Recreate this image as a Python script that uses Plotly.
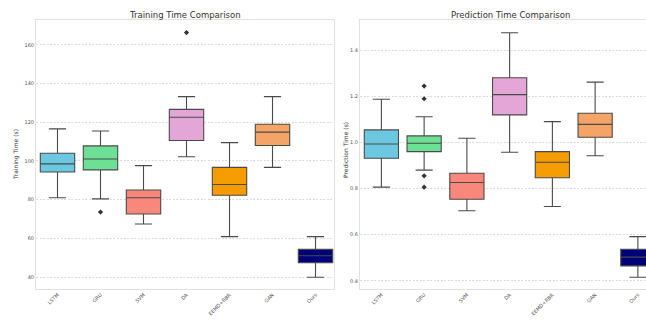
import plotly.graph_objects as go

models = ["LSTM", "GRU", "SVM", "DA", "EEMD+RBR", "GAN", "Ours"]
colors = ["#6CC7E0", "#6EE096", "#FA877B", "#E3A6D6", "#F59D00", "#F4A467", "#000078"]

# Training time (s) box statistics
train_low = [81.0, 80.4, 67.4, 102.2, 60.9, 96.7, 39.9]
train_q1 = [94.3, 95.4, 72.6, 110.6, 82.3, 108.0, 47.4]
train_med = [98.5, 101.0, 81.0, 122.6, 87.8, 114.9, 51.0]
train_q3 = [104.0, 107.8, 85.0, 126.7, 96.7, 119.0, 54.3]
train_high = [116.6, 115.5, 97.6, 133.3, 109.5, 133.3, 60.9]
train_out_x = ["GRU", "DA"]
train_out_y = [73.6, 166.4]

# Prediction time (s) box statistics
pred_low = [0.806, 0.880, 0.704, 0.957, 0.722, 0.942, 0.416]
pred_q1 = [0.931, 0.960, 0.754, 1.119, 0.847, 1.022, 0.465]
pred_med = [0.993, 0.996, 0.826, 1.207, 0.914, 1.078, 0.503]
pred_q3 = [1.054, 1.028, 0.866, 1.280, 0.960, 1.126, 0.537]
pred_high = [1.187, 1.111, 1.018, 1.475, 1.090, 1.261, 0.592]
pred_out_x = ["GRU", "GRU", "GRU", "GRU"]
pred_out_y = [1.244, 1.189, 0.855, 0.806]

train_ticks = [40, 60, 80, 100, 120, 140, 160]
pred_ticks = [0.4, 0.6, 0.8, 1.0, 1.2, 1.4]

W, H = 646, 321
L, R, T, B = 36, 0, 20, 32
PW = W - L - R
PH = H - T - B


def px(x):
    return (x - L) / PW


def py(y):
    return (H - B - y) / PH


fig = go.Figure()
edge = "#4a4a4a"
for i, m in enumerate(models):
    fig.add_trace(go.Box(
        x=[m], q1=[train_q1[i]], median=[train_med[i]], q3=[train_q3[i]],
        lowerfence=[train_low[i]], upperfence=[train_high[i]],
        fillcolor=colors[i], line=dict(color=edge, width=1.1),
        width=0.8, whiskerwidth=0.5, boxpoints=False,
        xaxis="x", yaxis="y", showlegend=False, name=m,
    ))
    fig.add_trace(go.Box(
        x=[m], q1=[pred_q1[i]], median=[pred_med[i]], q3=[pred_q3[i]],
        lowerfence=[pred_low[i]], upperfence=[pred_high[i]],
        fillcolor=colors[i], line=dict(color=edge, width=1.1),
        width=0.8, whiskerwidth=0.5, boxpoints=False,
        xaxis="x2", yaxis="y2", showlegend=False, name=m,
    ))

fig.add_trace(go.Scatter(
    x=train_out_x, y=train_out_y, mode="markers",
    marker=dict(symbol="diamond", size=4, color="#333333"),
    xaxis="x", yaxis="y", showlegend=False,
))
fig.add_trace(go.Scatter(
    x=pred_out_x, y=pred_out_y, mode="markers",
    marker=dict(symbol="diamond", size=4, color="#333333"),
    xaxis="x2", yaxis="y2", showlegend=False,
))

tickfont = dict(family="DejaVu Sans", size=5, color="#555555")
xcommon = dict(
    type="category", categoryorder="array", categoryarray=models,
    tickangle=-45, tickfont=tickfont, showgrid=False, zeroline=False,
    showline=True, mirror=True, linecolor="#e2e2e2", linewidth=1, ticks="",
)
ycommon = dict(
    tickfont=tickfont, showgrid=True, gridcolor="#dcdcdc", griddash="2px,1.5px",
    gridwidth=0.8, zeroline=False, showline=True, mirror=True,
    linecolor="#e2e2e2", linewidth=1, ticks="",
)

fig.update_layout(
    width=W, height=H,
    margin=dict(l=L, r=R, t=T, b=B),
    paper_bgcolor="white", plot_bgcolor="white",
    boxmode="overlay",
    xaxis=dict(domain=[0, px(334)], range=[-0.5, 6.43], anchor="y", **xcommon),
    yaxis=dict(domain=[0, 1], range=[33.8, 172.9], anchor="x",
               tickvals=train_ticks, ticktext=[str(t) for t in train_ticks], **ycommon),
    xaxis2=dict(domain=[px(360), 1], range=[-0.5, 6.19], anchor="y2", **xcommon),
    yaxis2=dict(domain=[0, 1], range=[0.365, 1.53], anchor="x2",
                tickvals=pred_ticks, ticktext=[f"{t:.1f}" for t in pred_ticks], **ycommon),
)

annots = [
    dict(text="Training Time Comparison", x=px(185), y=py(15), size=8.5),
    dict(text="Prediction Time Comparison", x=px(510), y=py(15), size=8.5),
]
for a in annots:
    fig.add_annotation(text=a["text"], x=a["x"], y=a["y"], xref="paper", yref="paper",
                       showarrow=False, xanchor="center", yanchor="middle",
                       font=dict(family="DejaVu Sans", size=a["size"], color="#333333"))

fig.add_annotation(text="Training Time (s)", x=px(16), y=py(155), xref="paper", yref="paper",
                   showarrow=False, textangle=-90, xanchor="center", yanchor="middle",
                   font=dict(family="DejaVu Sans", size=6, color="#333333"))
fig.add_annotation(text="Prediction Time (s)", x=px(345), y=py(150), xref="paper", yref="paper",
                   showarrow=False, textangle=-90, xanchor="center", yanchor="middle",
                   font=dict(family="DejaVu Sans", size=6, color="#333333"))

fig.write_html("out.html")
